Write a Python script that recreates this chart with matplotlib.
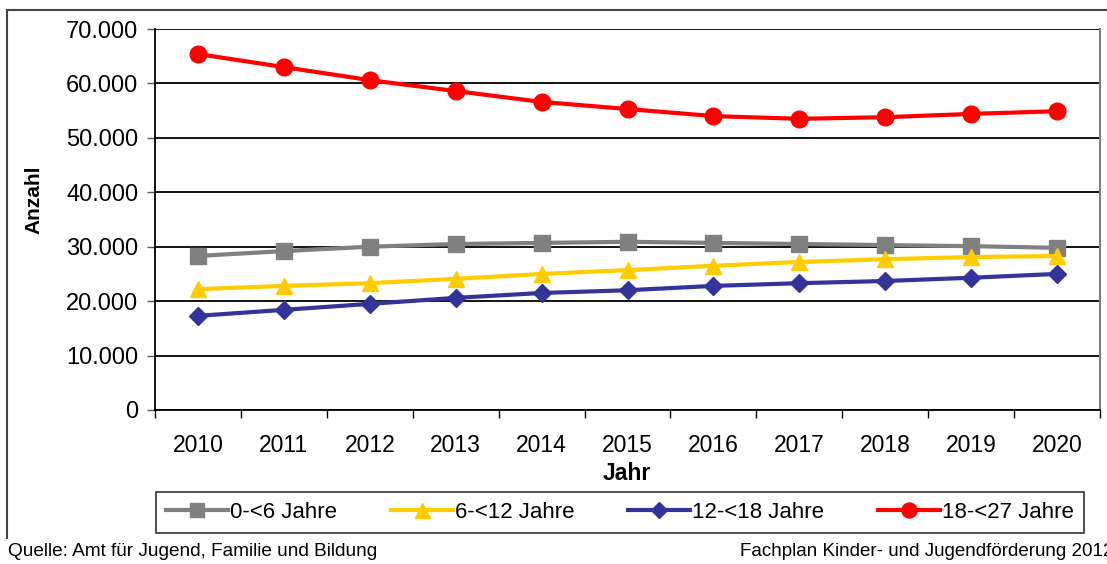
import matplotlib.pyplot as plt
import matplotlib.ticker as mticker
from matplotlib.lines import Line2D

plt.rcParams['font.family'] = ['Liberation Sans', 'DejaVu Sans']

jahre = ['2010', '2011', '2012', '2013', '2014', '2015', '2016', '2017', '2018', '2019', '2020']
u6 = [28300, 29200, 30000, 30500, 30700, 30900, 30700, 30500, 30300, 30100, 29800]
u12 = [22200, 22800, 23300, 24100, 25000, 25700, 26500, 27200, 27700, 28100, 28300]
u18 = [17300, 18400, 19500, 20600, 21500, 22000, 22800, 23300, 23700, 24300, 25000]
u27 = [65400, 63000, 60600, 58600, 56600, 55300, 54000, 53500, 53800, 54400, 54900]

serien = [
    ('0-<6 Jahre', u6, '#808080', 's', 11),
    ('6-<12 Jahre', u12, '#FFCC00', '^', 12),
    ('12-<18 Jahre', u18, '#333399', 'D', 9),
    ('18-<27 Jahre', u27, '#FF0000', 'o', 12),
]

fig = plt.figure(figsize=(11.07, 5.64), dpi=100)
ax = fig.add_axes([155 / 1107, 1 - 410 / 564, 945 / 1107, 381 / 564])

x = list(range(len(jahre)))
handles = []
for name, vals, col, m, ms in serien:
    ax.plot(x, vals, color=col, lw=3, marker=m, markersize=ms, zorder=3)
    handles.append(Line2D([], [], color=col, lw=3, marker=m, markersize=ms * 0.9, label=name))

ax.set_xlim(-0.5, len(jahre) - 0.5)
ax.set_ylim(0, 70000)
ax.yaxis.set_major_locator(mticker.MultipleLocator(10000))
ax.yaxis.set_major_formatter(mticker.FuncFormatter(lambda v, p: f'{int(v):,}'.replace(',', '.')))
ax.set_xticks(x)
ax.set_xticklabels(jahre)
ax.set_xticks([i - 0.5 for i in range(len(jahre) + 1)], minor=True)
ax.tick_params(axis='x', which='major', length=0, pad=17, labelsize=16.5)
ax.tick_params(axis='x', which='minor', length=6, width=1, color='black')
ax.tick_params(axis='y', length=6, width=1, pad=6, labelsize=17, color='#555555')
ax.yaxis.grid(True, color='black', lw=1.3)
ax.set_axisbelow(True)

ax.spines['top'].set_visible(False)
ax.spines['right'].set_color('#808080')
ax.spines['right'].set_linewidth(1.5)
ax.spines['left'].set_linewidth(1.3)
ax.spines['bottom'].set_linewidth(1.3)

ax.set_ylabel('Anzahl', fontsize=15, fontweight='bold')
ax.yaxis.set_label_coords((43 - 155) / 945, (410 - 200) / 381)
ax.set_xlabel('Jahr', fontsize=16.5, fontweight='bold')
ax.xaxis.set_label_coords((627 - 155) / 945, (410 - 462) / 381)

leg = fig.legend(handles=handles, ncol=4, loc='center',
                 bbox_to_anchor=(620 / 1107, 1 - 512 / 564), fontsize=16,
                 frameon=True, fancybox=False, edgecolor='black',
                 handlelength=2.8, handletextpad=0.1, columnspacing=2.4,
                 borderpad=0.45)
leg.get_frame().set_linewidth(1.2)

fig.text(8 / 1107, 1 - 551 / 564, 'Quelle: Amt für Jugend, Familie und Bildung',
         fontsize=13.7, va='center', ha='left')
fig.text(740 / 1107, 1 - 551 / 564, 'Fachplan Kinder- und Jugendförderung 2012',
         fontsize=13.5, va='center', ha='left')

# Rahmen
fig.add_artist(Line2D([7 / 1107, 7 / 1107], [1 - 10 / 564, 1 - 538 / 564],
                      transform=fig.transFigure, color='#444444', lw=1.5))
fig.add_artist(Line2D([7 / 1107, 1.0], [1 - 10 / 564, 1 - 10 / 564],
                      transform=fig.transFigure, color='#444444', lw=1.5))

fig.savefig('out.png', dpi=100)
